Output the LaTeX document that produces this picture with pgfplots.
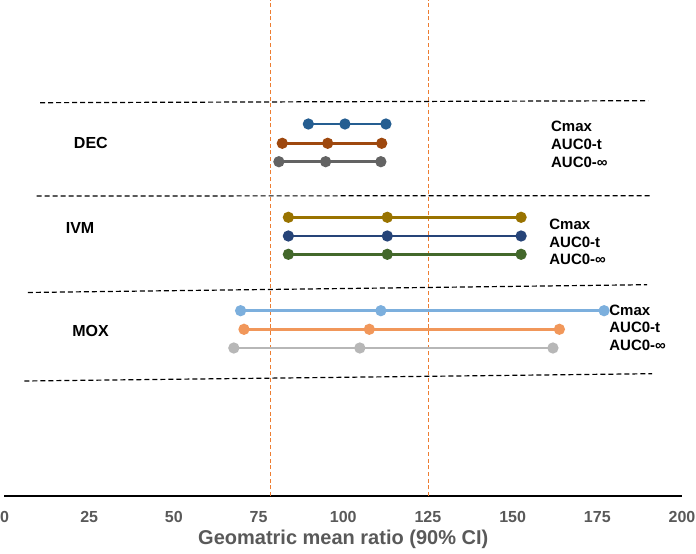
\documentclass[border=0pt]{standalone}
\usepackage{fontspec}
\setmainfont{Liberation Sans}
\usepackage{pgfplots}
\pgfplotsset{compat=1.18}
\definecolor{decA}{HTML}{255E91}
\definecolor{decB}{HTML}{9E480E}
\definecolor{decC}{HTML}{636363}
\definecolor{ivmA}{HTML}{997300}
\definecolor{ivmB}{HTML}{264478}
\definecolor{ivmC}{HTML}{43682B}
\definecolor{moxA}{HTML}{7CAFDD}
\definecolor{moxB}{HTML}{F1975A}
\definecolor{moxC}{HTML}{B7B7B7}
\definecolor{refor}{HTML}{ED7D31}
\definecolor{txtgray}{HTML}{595959}
\tikzset{
  series/.style={line width=2.7pt, mark=*, mark size=4.2pt, mark options={solid, draw=none, fill=#1}, color=#1},
  sep/.style={black, line width=1.2pt, dash pattern=on 5pt off 3pt},
  rlab/.style={anchor=west, inner sep=0pt, font=\fontsize{15}{17}\selectfont\bfseries},
  glab/.style={anchor=center, inner sep=0pt, font=\fontsize{16}{19}\selectfont\bfseries},
}
\begin{document}
\begin{tikzpicture}
\begin{axis}[
  name=ax,
  width=677.5pt, height=496pt, scale only axis,
  xmin=0, xmax=200, ymin=0, ymax=496,
  axis x line=bottom, axis y line=none,
  x axis line style={-, black, line width=2pt},
  xtick={0,25,...,200},
  major tick length=0pt,
  /pgf/number format/assume math mode=true,
  xticklabel style={font=\fontsize{16}{18}\selectfont\bfseries, text=txtgray, anchor=center, yshift=-20.7pt},
  xlabel={Geomatric mean ratio (90\% CI)},
  xlabel style={font=\fontsize{20}{23}\selectfont\bfseries, text=txtgray, at={(axis description cs:0.5,0)}, anchor=center, yshift=-43.3pt},
  clip=false,
]
% reference lines
\addplot[refor, line width=1.3pt, dash pattern=on 4pt off 2.7pt] coordinates {(78.6,0) (78.6,496)};
\addplot[refor, line width=1.3pt, dash pattern=on 4pt off 2.7pt] coordinates {(125.1,0) (125.1,496)};
% separators
\addplot[sep] coordinates {(10.5,393.3) (190.0,395.3)};
\addplot[sep] coordinates {(9.5,300.0) (190.8,300.3)};
\addplot[sep] coordinates {(6.9,203.5) (189.7,211.3)};
\addplot[sep] coordinates {(5.9,115.0) (191.2,122.3)};
% DEC
\addplot[series=decA] coordinates {(89.7,372) (100.5,372) (112.6,372)};
\addplot[series=decB] coordinates {(82.0,352.7) (95.4,352.7) (111.35,352.7)};
\addplot[series=decC] coordinates {(81.0,334.3) (94.8,334.3) (111.1,334.3)};
% IVM
\addplot[series=ivmA] coordinates {(83.8,278.7) (113.0,278.7) (152.5,278.7)};
\addplot[series=ivmB] coordinates {(83.8,260.0) (113.0,260.0) (152.5,260.0)};
\addplot[series=ivmC] coordinates {(83.8,241.7) (113.0,241.7) (152.5,241.7)};
% MOX
\addplot[series=moxA] coordinates {(69.7,185.3) (111.1,185.3) (177.0,185.3)};
\addplot[series=moxB] coordinates {(70.7,166.7) (107.7,166.7) (163.8,166.7)};
\addplot[series=moxC] coordinates {(67.7,148.0) (104.9,148.0) (161.9,148.0)};
% labels
\node[glab] at (axis cs:25.5,352.7) {DEC};
\node[glab] at (axis cs:22.3,268.3) {IVM};
\node[glab] at (axis cs:25.4,165.0) {MOX};
\node[rlab] at (axis cs:161.3,370) {Cmax};
\node[rlab] at (axis cs:161.3,352) {AUC0-t};
\node[rlab] at (axis cs:161.3,333.5) {AUC0-∞};
\node[rlab] at (axis cs:160.8,272) {Cmax};
\node[rlab] at (axis cs:160.8,254) {AUC0-t};
\node[rlab] at (axis cs:160.8,237) {AUC0-∞};
\node[rlab] at (axis cs:178.5,186) {Cmax};
\node[rlab] at (axis cs:178.5,168.3) {AUC0-t};
\node[rlab] at (axis cs:178.5,150.7) {AUC0-∞};
\end{axis}
\pgfresetboundingbox
\path ([shift={(-4.5pt,-58pt)}]ax.south west) rectangle ([shift={(14pt,0pt)}]ax.north east);
\end{tikzpicture}
\end{document}
